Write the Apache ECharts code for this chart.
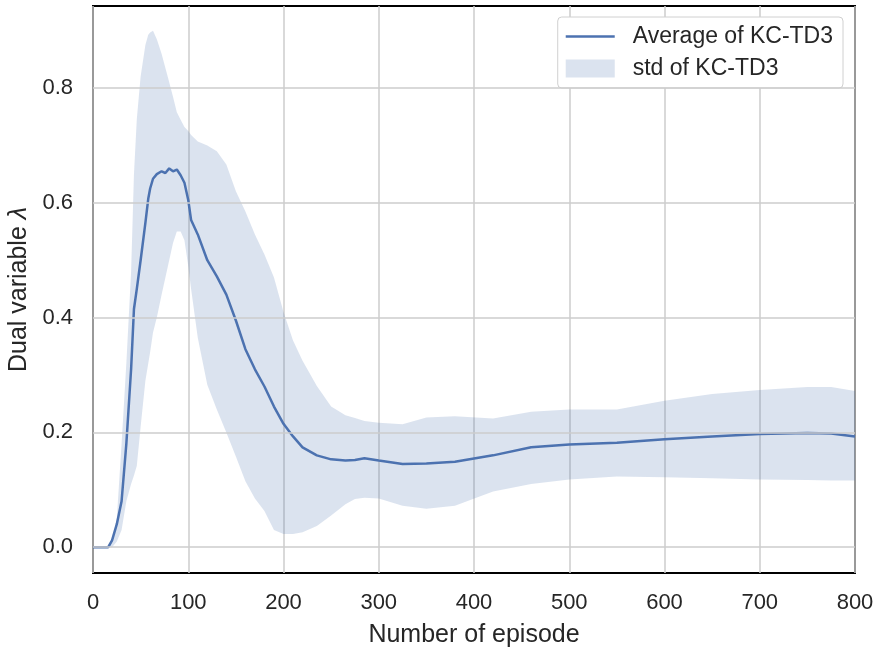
<!DOCTYPE html>
<html>
<head>
<meta charset="utf-8">
<script src="https://cdn.jsdelivr.net/npm/echarts@6/dist/echarts.min.js"></script>
<style>
  html, body { margin: 0; padding: 0; background: #fff; }
  #main { width: 876px; height: 648px; }
</style>
</head>
<body>
<div id="main"></div>
<script>
// episodes and values
var episodes = [0, 16, 20, 25, 30, 35, 40, 43, 46, 50, 55, 58, 60, 63, 67, 72, 76, 80, 84, 88, 92, 96, 100, 103, 110, 120, 130, 140, 150, 160, 170, 180, 190, 200, 210, 220, 235, 250, 265, 275, 285, 300, 325, 350, 380, 420, 460, 500, 550, 600, 650, 700, 750, 775, 800];
var avgValues = [0, 0, 0.012, 0.04, 0.08, 0.18, 0.31, 0.415, 0.45, 0.50, 0.565, 0.607, 0.625, 0.642, 0.65, 0.655, 0.652, 0.66, 0.655, 0.658, 0.648, 0.635, 0.605, 0.57, 0.545, 0.50, 0.472, 0.44, 0.395, 0.345, 0.31, 0.28, 0.245, 0.215, 0.193, 0.174, 0.16, 0.153, 0.151, 0.152, 0.155, 0.151, 0.145, 0.146, 0.149, 0.16, 0.174, 0.179, 0.182, 0.188, 0.193, 0.197, 0.199, 0.198, 0.193];
var upperValues = [0, 0, 0.01, 0.05, 0.18, 0.32, 0.48, 0.65, 0.746, 0.82, 0.875, 0.893, 0.897, 0.90, 0.885, 0.86, 0.835, 0.81, 0.785, 0.758, 0.745, 0.732, 0.725, 0.718, 0.707, 0.70, 0.69, 0.667, 0.62, 0.585, 0.545, 0.51, 0.47, 0.41, 0.36, 0.325, 0.281, 0.245, 0.23, 0.225, 0.22, 0.217, 0.214, 0.226, 0.228, 0.224, 0.236, 0.24, 0.24, 0.255, 0.267, 0.274, 0.279, 0.279, 0.272];
var lowerValues = [0, 0, 0, 0.01, 0.03, 0.08, 0.11, 0.125, 0.142, 0.21, 0.29, 0.32, 0.34, 0.374, 0.40, 0.44, 0.47, 0.50, 0.53, 0.55, 0.55, 0.535, 0.49, 0.45, 0.365, 0.283, 0.24, 0.20, 0.158, 0.115, 0.085, 0.063, 0.03, 0.023, 0.023, 0.026, 0.037, 0.055, 0.075, 0.084, 0.086, 0.085, 0.072, 0.067, 0.072, 0.097, 0.11, 0.118, 0.123, 0.122, 0.12, 0.118, 0.117, 0.116, 0.116];
var yTicks = [0, 0.2, 0.4, 0.6, 0.8];

var lineColor = '#4c72b0';
var bandColor = 'rgba(76,114,176,0.2)';
var textColor = '#262626';
var fontName = 'Liberation Sans';

var myChart = echarts.init(document.getElementById('main'));

var option = {
    backgroundColor: '#fff',
    animation: false,
    textStyle: { fontFamily: fontName, color: textColor },
    grid: {
        left: 93, right: 21, top: 6, bottom: 75,
        containLabel: false,
        outerBoundsMode: 'none',
        show: true,
        borderColor: '#000',
        borderWidth: 2,
        backgroundColor: 'transparent'
    },
    legend: {
        right: 33, top: 17,
        orient: 'vertical',
        padding: [8, 10, 8, 8],
        itemGap: 9,
        itemWidth: 49,
        itemHeight: 18,
        backgroundColor: '#fff',
        borderColor: '#d0d0d0',
        borderWidth: 1,
        borderRadius: 4,
        textStyle: { fontSize: 23, color: textColor, fontFamily: fontName, padding: [0, 0, 0, 13] },
        data: [
            { name: 'Average of KC-TD3', icon: 'path://M0,0 L49,0 L49,2.5 L0,2.5 Z' },
            { name: 'std of KC-TD3', icon: 'rect' }
        ]
    },
    xAxis: {
        type: 'value',
        min: 0, max: 800, interval: 100,
        name: 'Number of episode',
        nameLocation: 'middle',
        nameGap: 50,
        nameTextStyle: { fontSize: 25, color: textColor, fontFamily: fontName },
        axisLine: { show: false },
        axisTick: { show: false },
        axisLabel: { fontSize: 22, color: textColor, margin: 19, fontFamily: fontName },
        splitLine: { show: true, lineStyle: { color: '#cccccc', width: 1.5 } }
    },
    yAxis: {
        type: 'value',
        min: -0.045, max: 0.943,
        name: 'Dual variable {i|λ}',
        nameLocation: 'middle',
        nameGap: 60,
        nameTextStyle: {
            fontSize: 25, color: textColor, fontFamily: fontName,
            rich: { i: { fontSize: 25, color: textColor, fontStyle: 'italic', fontFamily: fontName } }
        },
        axisLine: { show: false },
        axisTick: { show: false },
        splitLine: { show: false },
        axisLabel: {
            fontSize: 22, color: textColor, margin: 20, fontFamily: fontName,
            customValues: yTicks,
            formatter: function (v) { return v.toFixed(1); }
        }
    },
    series: [
        {
            // horizontal grid lines at the y ticks
            name: 'ygrid',
            type: 'line',
            data: [],
            z: 1,
            silent: true,
            markLine: {
                silent: true,
                symbol: ['none', 'none'],
                label: { show: false },
                lineStyle: { color: '#cccccc', width: 1.5, type: 'solid' },
                data: yTicks.map(function (v) { return { yAxis: v }; })
            }
        },
        {
            name: 'std of KC-TD3',
            type: 'custom',
            z: 2,
            itemStyle: { color: bandColor },
            encode: { x: 0, y: [1, 2] },
            data: episodes.map(function (e, i) { return [e, lowerValues[i], upperValues[i]]; }),
            renderItem: function (params, api) {
                if (params.dataIndex !== 0) return;
                var pts = [];
                for (var i = 0; i < episodes.length; i++) {
                    pts.push(api.coord([episodes[i], upperValues[i]]));
                }
                for (var j = episodes.length - 1; j >= 0; j--) {
                    pts.push(api.coord([episodes[j], lowerValues[j]]));
                }
                return {
                    type: 'polygon',
                    shape: { points: pts },
                    style: { fill: bandColor }
                };
            }
        },
        {
            name: 'Average of KC-TD3',
            type: 'line',
            z: 3,
            showSymbol: false,
            symbol: 'none',
            color: lineColor,
            lineStyle: { color: lineColor, width: 2.5 },
            data: episodes.map(function (e, i) { return [e, avgValues[i]]; })
        }
    ]
};

myChart.setOption(option);
</script>
</body>
</html>
